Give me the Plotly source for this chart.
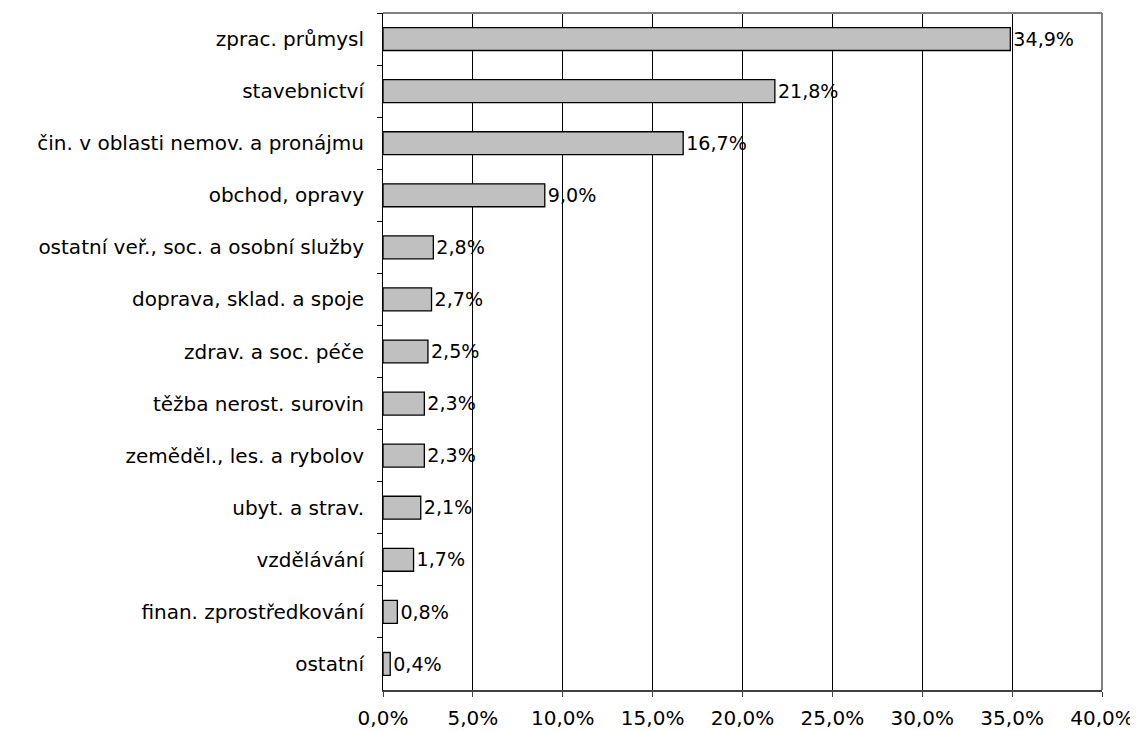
import plotly.graph_objects as go

CATEGORIES = [
    "zprac. průmysl",
    "stavebnictví",
    "čin. v oblasti nemov. a pronájmu",
    "obchod, opravy",
    "ostatní veř., soc. a osobní služby",
    "doprava, sklad. a spoje",
    "zdrav. a soc. péče",
    "těžba nerost. surovin",
    "zeměděl., les. a rybolov",
    "ubyt. a strav.",
    "vzdělávání",
    "finan. zprostředkování",
    "ostatní",
]
SHARES = [34.9, 21.8, 16.7, 9.0, 2.8, 2.7, 2.5, 2.3, 2.3, 2.1, 1.7, 0.8, 0.4]
X_TICKS = [0, 5, 10, 15, 20, 25, 30, 35, 40]

FONT = "Verdana, DejaVu Sans, sans-serif"
FONT_SIZE = 20

fig = go.Figure(
    go.Bar(
        x=SHARES,
        y=CATEGORIES,
        orientation="h",
        width=0.44,
        marker={"color": "#c0c0c0", "line": {"color": "#000000", "width": 1.3}},
        texttemplate="%{x:.1f}%",
        textposition="outside",
        textfont={"size": FONT_SIZE, "color": "#000000", "family": FONT},
        cliponaxis=False,
    )
)

# grey frame on top and right of the plot area
fig.add_shape(type="line", xref="paper", yref="paper", x0=0, x1=1, y0=1, y1=1,
              line={"color": "#808080", "width": 2})
fig.add_shape(type="line", xref="paper", yref="paper", x0=1, x1=1, y0=0, y1=1,
              line={"color": "#808080", "width": 2})

# the page body adds an 8px margin, so the figure is sized 8px smaller
fig.update_layout(
    width=1130,
    height=723,
    paper_bgcolor="#ffffff",
    plot_bgcolor="#ffffff",
    separators=", ",
    showlegend=False,
    margin={"l": 375, "r": 36, "t": 5, "b": 41},
    font={"family": FONT, "size": FONT_SIZE, "color": "#000000"},
    xaxis={
        "range": [0, 40],
        "tickmode": "array",
        "tickvals": X_TICKS,
        "ticktext": [f"{v:.1f}%".replace(".", ",") for v in X_TICKS],
        "showgrid": True,
        "gridcolor": "#000000",
        "gridwidth": 1,
        "zeroline": False,
        "showline": True,
        "linecolor": "#404040",
        "linewidth": 2,
        "ticks": "outside",
        "ticklen": 5,
        "tickcolor": "#404040",
        "ticklabelstandoff": 4,
        "automargin": False,
        "tickfont": {"size": FONT_SIZE},
    },
    yaxis={
        "autorange": "reversed",
        "showgrid": False,
        "zeroline": False,
        "showline": True,
        "linecolor": "#000000",
        "linewidth": 1,
        "ticks": "outside",
        "ticklen": 5,
        "tickson": "boundaries",
        "tickcolor": "#000000",
        "ticklabelstandoff": 14,
        "automargin": False,
        "tickfont": {"size": FONT_SIZE},
    },
)

fig.write_html("out.html")
